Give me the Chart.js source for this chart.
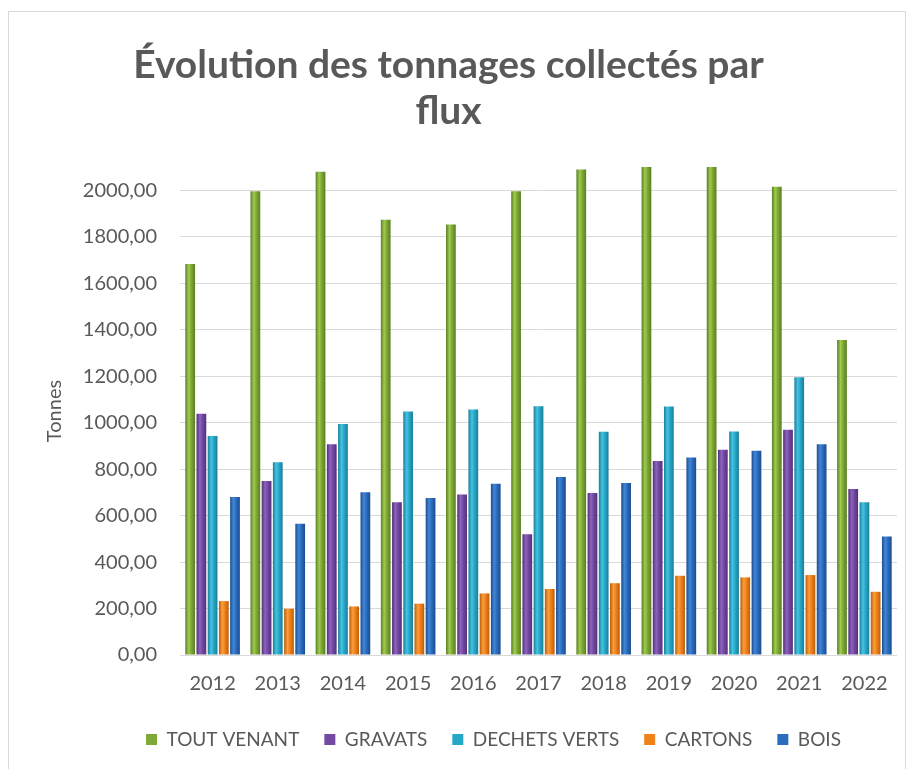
<!DOCTYPE html>
<html>
<head>
<meta charset="utf-8">
<script src="https://cdn.jsdelivr.net/npm/chart.js@4.4.1/dist/chart.umd.min.js"></script>
<style>
body{margin:0;background:#fff}
#frame{position:absolute;left:8px;top:11px;width:896px;height:800px;border:1px solid #d9d9d9}
#c{position:absolute;left:0;top:0}
</style>
</head>
<body>
<div id="frame"></div>
<canvas id="c" width="909" height="769"></canvas>
<script>

// values (tonnes)
const years=["2012","2013","2014","2015","2016","2017","2018","2019","2020","2021","2022"]
const seriesNames=["TOUT VENANT","GRAVATS","DECHETS VERTS","CARTONS","BOIS"]
const toutVenant=[1683,1996,2080,1873,1853,1996,2089,2150,2150,2015,1356]
const gravats=[1038,749,907,657,691,520,697,835,883,969,714]
const dechetsVerts=[942,829,994,1048,1057,1071,961,1069,962,1195,657]
const cartons=[232,199,209,221,265,284,309,341,334,344,272]
const bois=[680,565,700,676,737,766,740,850,879,907,510]

const yMax=2100
const yStep=200

// colours: base, dark edge, light centre
const palette=[
["#7fa934","#5a7e22","#9fcb52"],
["#7349a3","#52307a","#8d63be"],
["#28a8c9","#197e99","#45c3e2"],
["#f0821a","#b85f0c","#fc9d3a"],
["#2b6cbf","#1c4d8d","#4187d8"]
]

const font="Lato"
const grey="#595959"

const barShade={
id:"barShade",
beforeDatasetsDraw(chart){
const ctx=chart.ctx
chart.data.datasets.forEach((ds,i)=>{
const p=palette[i]
chart.getDatasetMeta(i).data.forEach(bar=>{
const x0=bar.x-bar.width/2
const x1=bar.x+bar.width/2
const g=ctx.createLinearGradient(x0,0,x1,0)
g.addColorStop(0,p[1])
g.addColorStop(0.35,p[2])
g.addColorStop(0.6,p[0])
g.addColorStop(1,p[1])
bar.options=Object.assign({},bar.options,{backgroundColor:g})
})
})
}
}

// put the legend row where the original sits
const legendShift={
id:"legendShift",
afterLayout(chart){
const l=chart.legend
const h=l.bottom-l.top
l.top=705
l.bottom=705+h
l.left+=45
l.right+=45
}
}

const seriesValues=[toutVenant,gravats,dechetsVerts,cartons,bois]

const datasets=seriesNames.map((name,i)=>({
label:name,
data:seriesValues[i],
backgroundColor:palette[i][0],
borderWidth:0,
categoryPercentage:0.86,
barPercentage:0.87
}))

new Chart(document.getElementById("c"),{
type:"bar",
data:{labels:years,datasets:datasets},
plugins:[barShade,legendShift],
options:{
responsive:false,
animation:false,
layout:{padding:{top:0,right:12,bottom:16,left:0}},
plugins:{
title:{
display:true,
text:["Évolution des tonnages collectés par","flux"],
color:grey,
font:{family:font,size:39,weight:"bold",lineHeight:1.18},
padding:{top:42,bottom:33}
},
legend:{
position:"bottom",
labels:{
color:grey,
font:{family:font,size:19},
boxWidth:11,
boxHeight:11,
padding:25
}
},
tooltip:{enabled:false}
},
scales:{
x:{
grid:{display:false,drawTicks:false},
border:{display:false},
ticks:{color:grey,font:{family:font,size:20},padding:17},
afterFit:s=>{s.height=44}
},
y:{
min:0,
max:yMax,
border:{display:false},
grid:{color:"#d9d9d9",lineWidth:1,drawTicks:false},
ticks:{
stepSize:yStep,
includeBounds:false,
color:grey,
font:{family:font,size:20},
padding:23,
callback:v=>v.toFixed(2).replace(".",",")
},
title:{
display:true,
text:"Tonnes",
color:grey,
font:{family:font,size:20},
padding:{top:43,bottom:0}
},
afterFit:s=>{s.width=180}
}
}
}
})

</script>
</body>
</html>
